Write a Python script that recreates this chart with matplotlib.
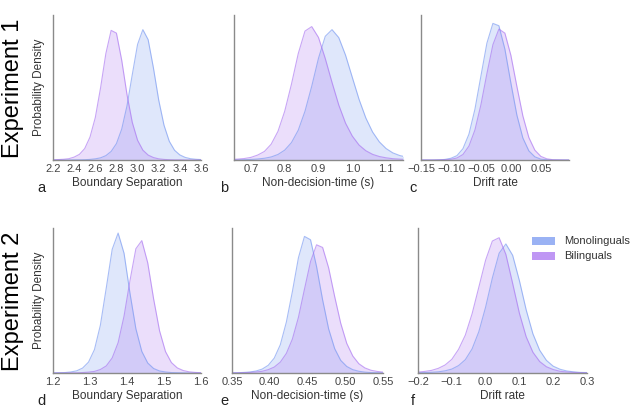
"""Posterior densities of DDM parameters, monolinguals vs bilinguals (2 experiments)."""
import matplotlib
matplotlib.use("Agg")
import matplotlib.pyplot as plt
from matplotlib.patches import Patch

plt.rcParams["font.family"] = ["Liberation Sans", "DejaVu Sans"]

BLUE = "#6f92f0"
PURPLE = "#a46bf0"
GROUPS = ["Monolinguals", "Bilinguals"]

# ---- Experiment 1 ----
# a: boundary separation
bs1_x = [2.20, 2.25, 2.30, 2.35, 2.40, 2.45, 2.50, 2.55, 2.60, 2.65, 2.70, 2.75, 2.80, 2.85, 2.90,
         2.95, 3.00, 3.05, 3.10, 3.15, 3.20, 3.25, 3.30, 3.35, 3.40, 3.45, 3.50, 3.55, 3.60]
bs1_mono = [0, 0, 0, 0, 0.001, 0.001, 0.002, 0.004, 0.008, 0.015, 0.030, 0.059, 0.113, 0.213, 0.374,
            0.589, 0.797, 0.899, 0.830, 0.635, 0.413, 0.240, 0.129, 0.067, 0.035, 0.018, 0.009, 0.005, 0.003]
bs1_bil = [0.001, 0.003, 0.005, 0.009, 0.020, 0.039, 0.079, 0.158, 0.292, 0.498, 0.734, 0.894, 0.875, 0.688,
           0.451, 0.259, 0.136, 0.068, 0.034, 0.017, 0.008, 0.004, 0.002, 0.001, 0.001, 0, 0, 0, 0]
# b: non-decision time
ndt1_x = [0.64, 0.66, 0.68, 0.70, 0.72, 0.74, 0.76, 0.78, 0.80, 0.82, 0.84, 0.86, 0.88, 0.90,
          0.92, 0.94, 0.96, 0.98, 1.00, 1.02, 1.04, 1.06, 1.08, 1.10, 1.12, 1.14, 1.16]
ndt1_mono = [0.001, 0.001, 0.002, 0.004, 0.007, 0.012, 0.021, 0.038, 0.068, 0.120, 0.205, 0.336, 0.509, 0.702,
             0.853, 0.899, 0.844, 0.723, 0.570, 0.418, 0.290, 0.193, 0.125, 0.079, 0.049, 0.031, 0.020]
ndt1_bil = [0.003, 0.006, 0.010, 0.018, 0.034, 0.059, 0.109, 0.197, 0.336, 0.523, 0.733, 0.889, 0.920, 0.845,
            0.700, 0.535, 0.379, 0.254, 0.165, 0.103, 0.064, 0.039, 0.024, 0.015, 0.009, 0.006, 0.004]
# c: drift rate
dr1_x = [-0.15, -0.14, -0.13, -0.12, -0.11, -0.10, -0.09, -0.08, -0.07, -0.06, -0.05, -0.04, -0.03,
         -0.02, -0.01, 0.00, 0.01, 0.02, 0.03, 0.04, 0.05, 0.06, 0.07, 0.08, 0.09, 0.10]
dr1_mono = [0, 0, 0, 0.001, 0.004, 0.012, 0.030, 0.078, 0.178, 0.350, 0.579, 0.806, 0.942,
            0.926, 0.765, 0.531, 0.310, 0.152, 0.063, 0.022, 0.006, 0.002, 0, 0, 0, 0]
dr1_bil = [0, 0, 0, 0.001, 0.002, 0.005, 0.014, 0.038, 0.096, 0.207, 0.381, 0.596, 0.795,
           0.903, 0.875, 0.722, 0.508, 0.304, 0.155, 0.068, 0.025, 0.008, 0.002, 0.001, 0, 0]

# ---- Experiment 2 ----
bs2_x = [1.200, 1.216, 1.232, 1.248, 1.264, 1.280, 1.296, 1.312, 1.328, 1.344, 1.360, 1.376, 1.392,
         1.408, 1.424, 1.440, 1.456, 1.472, 1.488, 1.504, 1.520, 1.536, 1.552, 1.568, 1.584, 1.600]
bs2_mono = [0.001, 0.002, 0.003, 0.007, 0.015, 0.034, 0.075, 0.161, 0.329, 0.587, 0.853, 0.965, 0.826,
            0.551, 0.305, 0.149, 0.069, 0.031, 0.014, 0.007, 0.003, 0.002, 0.001, 0, 0, 0]
bs2_bil = [0, 0, 0, 0.001, 0.001, 0.003, 0.006, 0.011, 0.024, 0.049, 0.104, 0.209, 0.392,
           0.637, 0.857, 0.913, 0.760, 0.510, 0.291, 0.148, 0.072, 0.035, 0.017, 0.008, 0.004, 0.002]
ndt2_x = [0.350, 0.358, 0.366, 0.374, 0.382, 0.390, 0.398, 0.406, 0.414, 0.422, 0.430, 0.438, 0.446,
          0.454, 0.462, 0.470, 0.478, 0.486, 0.494, 0.502, 0.510, 0.518, 0.526, 0.534, 0.542, 0.550]
ndt2_mono = [0.001, 0.002, 0.004, 0.007, 0.014, 0.027, 0.053, 0.103, 0.195, 0.351, 0.562, 0.795, 0.942,
             0.919, 0.734, 0.505, 0.304, 0.168, 0.087, 0.045, 0.023, 0.012, 0.006, 0.003, 0.002, 0.001]
ndt2_bil = [0.001, 0.001, 0.002, 0.004, 0.007, 0.012, 0.023, 0.041, 0.075, 0.135, 0.234, 0.384, 0.578,
            0.768, 0.884, 0.866, 0.725, 0.527, 0.343, 0.204, 0.117, 0.064, 0.035, 0.019, 0.011, 0.006]
dr2_x = [-0.20, -0.18, -0.16, -0.14, -0.12, -0.10, -0.08, -0.06, -0.04, -0.02, 0.00, 0.02, 0.04,
         0.06, 0.08, 0.10, 0.12, 0.14, 0.16, 0.18, 0.20, 0.22, 0.24, 0.26, 0.28, 0.30]
dr2_mono = [0.002, 0.003, 0.005, 0.008, 0.015, 0.027, 0.051, 0.092, 0.166, 0.285, 0.454, 0.655, 0.826,
            0.890, 0.812, 0.637, 0.436, 0.270, 0.157, 0.087, 0.047, 0.026, 0.014, 0.008, 0.004, 0.003]
dr2_bil = [0.006, 0.011, 0.018, 0.032, 0.055, 0.094, 0.163, 0.261, 0.408, 0.592, 0.778, 0.910, 0.933,
           0.818, 0.618, 0.412, 0.250, 0.143, 0.079, 0.043, 0.024, 0.012, 0.007, 0.004, 0.002, 0.001]

PANELS = [
    # x, mono, bil, xlim, ticks, ticklabels, xlabel, letter, rect (px: left, top, w, h)
    (bs1_x, bs1_mono, bs1_bil, (2.2, 3.6), [2.2, 2.4, 2.6, 2.8, 3.0, 3.2, 3.4, 3.6],
     ["2.2", "2.4", "2.6", "2.8", "3.0", "3.2", "3.4", "3.6"], "Boundary Separation", "a",
     [53, 15, 148, 145]),
    (ndt1_x, ndt1_mono, ndt1_bil, (0.65, 1.15), [0.7, 0.8, 0.9, 1.0, 1.1],
     ["0.7", "0.8", "0.9", "1.0", "1.1"], "Non-decision-time (s)", "b", [234, 15, 169, 145]),
    (dr1_x, dr1_mono, dr1_bil, (-0.15, 0.097), [-0.15, -0.10, -0.05, 0.0, 0.05],
     ["\u22120.15", "\u22120.10", "\u22120.05", "0.00", "0.05"], "Drift rate", "c",
     [421, 15, 148, 145]),
    (bs2_x, bs2_mono, bs2_bil, (1.2, 1.6), [1.2, 1.3, 1.4, 1.5, 1.6],
     ["1.2", "1.3", "1.4", "1.5", "1.6"], "Boundary Separation", "d", [53, 228, 148, 145]),
    (ndt2_x, ndt2_mono, ndt2_bil, (0.35, 0.55), [0.35, 0.40, 0.45, 0.50, 0.55],
     ["0.35", "0.40", "0.45", "0.50", "0.55"], "Non-decision-time (s)", "e", [232, 228, 151, 145]),
    (dr2_x, dr2_mono, dr2_bil, (-0.2, 0.3), [-0.2, -0.1, 0.0, 0.1, 0.2, 0.3],
     ["\u22120.2", "\u22120.1", "0.0", "0.1", "0.2", "0.3"], "Drift rate", "f", [418, 228, 169, 145]),
]

W, H = 639, 420
fig = plt.figure(figsize=(W / 100, H / 100), dpi=100)

for x, mono, bil, xlim, ticks, tlabels, xlabel, letter, r in PANELS:
    left, top, w, h = r
    ax = fig.add_axes([left / W, (H - top - h) / H, w / W, h / H])
    for y, c in [(mono, BLUE), (bil, PURPLE)]:
        ax.fill_between(x, y, color=c, alpha=0.22, lw=0)
        ax.plot(x, y, color=c, lw=0.8, alpha=0.6)
    ax.set_xlim(*xlim)
    ax.set_ylim(0, 1)
    ax.set_xticks(ticks)
    ax.set_xticklabels(tlabels)
    ax.set_yticks([])
    ax.tick_params(axis="x", length=0, pad=3, labelsize=8, labelcolor="#444444")
    ax.set_xlabel(xlabel, fontsize=8.5, color="#333333", labelpad=2)
    for s in ["top", "right"]:
        ax.spines[s].set_visible(False)
    for s in ["left", "bottom"]:
        ax.spines[s].set_color("#8a8a8a")
        ax.spines[s].set_linewidth(1.0)
    if letter in ("a", "d"):
        ax.set_ylabel("Probability Density", fontsize=8.5, color="#333333", labelpad=6)
    lx = {"a": 41, "d": 41, "b": 224, "e": 224, "c": 413, "f": 413}[letter]
    ly = top + h + 28
    fig.text(lx / W, (H - ly) / H, letter, fontsize=10.5, ha="center", va="center", color="#222222")
    if letter == "f":
        handles = [Patch(facecolor=BLUE, alpha=0.7, lw=0), Patch(facecolor=PURPLE, alpha=0.7, lw=0)]
        ax.legend(handles, GROUPS, loc="upper left", bbox_to_anchor=(0.64, 0.98), frameon=False,
                  fontsize=8, borderpad=0, handlelength=2.1, handleheight=0.75,
                  handletextpad=0.8, labelspacing=0.45, labelcolor="#333333")

fig.text(13 / W, (H - 88) / H, "Experiment 1", rotation=90, fontsize=17, ha="center", va="center")
fig.text(13 / W, (H - 301) / H, "Experiment 2", rotation=90, fontsize=17, ha="center", va="center")

fig.savefig("out.png", dpi=100)
